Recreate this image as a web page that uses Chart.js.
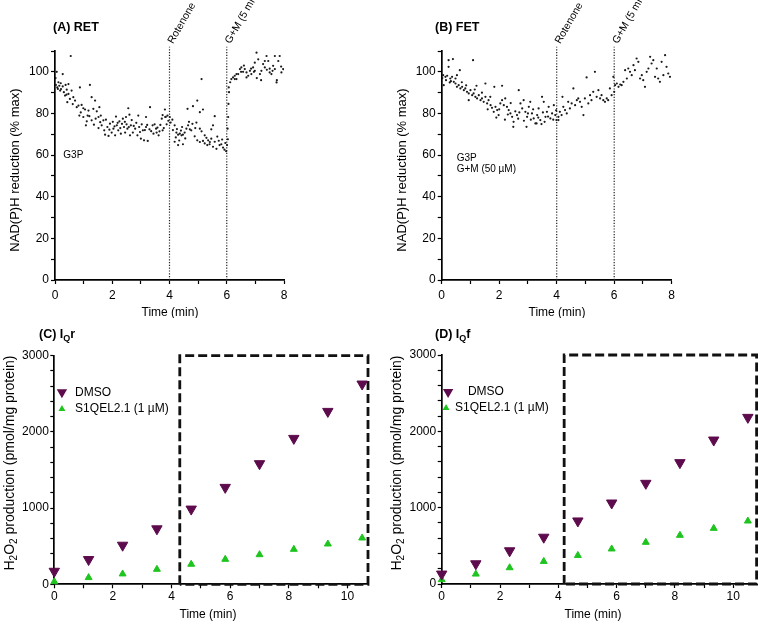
<!DOCTYPE html>
<html>
<head>
<meta charset="utf-8">
<script src="https://cdn.jsdelivr.net/npm/chart.js@4.4.1/dist/chart.umd.min.js"></script>
<style>
  body { margin: 0; background: #fff; }
  #wrap { position: relative; width: 760px; height: 626px; overflow: hidden; }
  canvas { position: absolute; }
</style>
</head>
<body>
<div id="wrap">
  <canvas id="chartA" width="380" height="318" style="left:0;top:0"></canvas>
  <canvas id="chartB" width="380" height="318" style="left:380px;top:0"></canvas>
  <canvas id="chartC" width="380" height="308" style="left:0;top:318px"></canvas>
  <canvas id="chartD" width="380" height="308" style="left:380px;top:318px"></canvas>
</div>
<script>
// ---- data ----
// (A) RET: NAD(P)H reduction (% max) vs time (min)
const retPoints = [
  [0.02,97.0],[0.03,93.7],[0.06,100],[0.08,92.5],[0.10,91.8],[0.12,95.0],[0.15,93.3],[0.18,91.0],[0.20,94.5],[0.21,91.7],
  [0.27,98.9],[0.27,93.0],[0.31,90.2],[0.35,88.6],[0.37,93.7],[0.40,89.0],[0.41,91.4],[0.43,85.4],[0.47,94.1],[0.47,89.4],
  [0.52,87.0],[0.55,107.6],[0.58,91.0],[0.62,84.5],[0.64,87.8],[0.70,86.2],[0.76,83.0],[0.82,83.8],[0.85,79.0],[0.87,92.5],
  [0.90,80.5],[0.93,84.1],[0.99,82.5],[0.99,78.3],[1.05,81.9],[1.08,74.3],[1.11,76.2],[1.14,79.0],[1.17,81.4],[1.20,78.7],
  [1.22,93.7],[1.28,87.8],[1.28,76.7],[1.34,82.2],[1.36,74.6],[1.40,86.2],[1.42,77.5],[1.46,81.0],[1.52,78.3],[1.52,73.0],
  [1.55,83.0],[1.58,75.8],[1.60,79.0],[1.63,74.3],[1.69,76.7],[1.72,71.9],[1.75,69.8],[1.78,77.0],[1.83,73.5],[1.87,69.2],
  [1.90,72.2],[1.92,75.1],[1.98,70.8],[2.02,76.0],[2.04,72.7],[2.08,73.8],[2.10,69.5],[2.13,78.5],[2.16,74.3],[2.19,75.5],
  [2.21,71.9],[2.25,76.2],[2.28,73.0],[2.30,70.3],[2.34,75.0],[2.37,77.5],[2.41,73.5],[2.44,76.0],[2.45,70.8],[2.48,78.3],
  [2.50,74.8],[2.53,72.7],[2.56,82.5],[2.58,73.5],[2.60,79.4],[2.62,69.5],[2.65,74.3],[2.68,76.8],[2.72,70.8],[2.75,74.0],
  [2.80,72.7],[2.84,75.5],[2.88,69.5],[2.91,79.0],[2.94,73.5],[2.97,71.1],[3.00,67.9],[3.03,74.8],[3.07,71.9],[3.11,67.1],
  [3.14,72.0],[3.18,73.5],[3.18,78.3],[3.22,74.5],[3.24,66.8],[3.30,72.4],[3.32,83.0],[3.36,71.5],[3.41,74.3],[3.44,70.3],
  [3.48,74.8],[3.53,72.7],[3.55,70.8],[3.58,73.2],[3.62,69.5],[3.65,71.4],[3.68,74.5],[3.73,77.5],[3.76,71.9],[3.76,79.2],
  [3.80,73.0],[3.84,81.9],[3.85,78.3],[3.87,78.4],[3.90,74.8],[3.93,79.0],[3.96,76.5],
  [4.01,78.3],[4.04,75.6],[4.10,77.0],[4.12,72.0],[4.18,74.3],[4.18,66.4],[4.22,68.5],[4.24,70.8],[4.26,72.5],[4.30,69.8],
  [4.30,64.8],[4.34,67.0],[4.36,70.3],[4.40,71.8],[4.42,69.5],[4.44,73.5],[4.47,69.8],[4.47,65.2],[4.53,70.8],[4.55,68.0],
  [4.59,72.7],[4.63,82.2],[4.65,74.3],[4.68,76.0],[4.71,72.4],[4.76,71.9],[4.80,75.0],[4.82,83.5],[4.88,69.0],[4.90,73.0],
  [4.94,75.6],[4.97,86.2],[4.97,67.1],[5.06,80.6],[5.06,72.7],[5.06,66.3],[5.12,96.5],[5.12,71.4],[5.17,81.9],[5.17,66.8],
  [5.23,69.5],[5.23,65.6],[5.29,68.3],[5.32,64.8],[5.35,67.1],[5.40,65.2],[5.41,66.3],[5.46,67.9],[5.46,72.4],[5.52,74.3],
  [5.52,64.0],[5.58,78.7],[5.58,66.4],[5.64,63.0],[5.67,68.9],[5.72,66.9],[5.75,64.8],[5.81,65.2],[5.84,67.5],[5.87,63.6],
  [5.92,62.6],[5.95,65.8],[5.98,61.9],[6.01,64.8],[6.04,67.6],[6.03,72.7],[6.05,78.3],[6.06,84.6],[6.08,90.2],[6.07,92.5],
  [6.12,95.0],[6.16,96.5],[6.22,97.3],[6.28,98.1],[6.28,96.5],[6.34,96.5],[6.34,98.9],[6.40,98.9],[6.46,101.3],[6.50,100.0],
  [6.51,102.1],[6.57,100.0],[6.60,103.0],[6.63,101.3],[6.69,99.7],[6.69,97.3],[6.75,98.1],[6.81,100.5],[6.85,101.5],[6.86,98.9],
  [6.92,102.1],[6.95,100.0],[6.98,104.4],[6.98,100.5],[7.04,109.2],[7.05,97.0],[7.10,106.0],[7.16,98.9],[7.20,96.0],[7.21,100.5],
  [7.27,103.7],[7.33,102.1],[7.33,105.2],[7.39,107.6],[7.40,101.0],[7.45,105.2],[7.50,99.7],[7.50,101.5],[7.56,98.9],[7.60,100.5],
  [7.62,102.9],[7.68,101.3],[7.68,107.6],[7.74,94.9],[7.75,96.0],[7.80,105.2],[7.85,107.6],[7.90,102.5],[7.91,99.7],[7.97,101.3]
];
// (B) FET
const fetPoints = [
  [0.02,97.0],[0.05,98.4],[0.07,93.6],[0.13,97.6],[0.15,96.0],[0.19,98.1],[0.24,105.6],[0.24,102.4],[0.28,94.9],[0.30,96.8],
  [0.32,95.5],[0.36,97.6],[0.39,106.1],[0.42,95.2],[0.48,96.8],[0.48,94.4],[0.53,98.4],[0.53,92.8],[0.59,93.6],[0.63,100.8],
  [0.65,92.0],[0.70,95.0],[0.71,92.8],[0.77,91.2],[0.82,92.0],[0.85,93.5],[0.88,90.4],[0.94,89.6],[0.94,86.4],[1.00,91.2],
  [1.06,88.8],[1.09,105.6],[1.11,89.6],[1.15,91.5],[1.17,88.0],[1.21,93.3],[1.23,87.2],[1.29,88.8],[1.35,86.4],[1.40,87.2],
  [1.40,90.0],[1.46,85.6],[1.52,94.4],[1.52,88.0],[1.58,84.8],[1.60,82.0],[1.63,86.4],[1.69,88.0],[1.70,84.0],[1.75,82.7],
  [1.81,80.8],[1.83,92.8],[1.87,83.2],[1.90,78.0],[1.93,81.6],[1.98,79.2],[2.00,82.0],[2.04,84.8],[2.10,86.4],[2.10,93.3],
  [2.16,84.0],[2.20,77.0],[2.21,87.2],[2.27,83.2],[2.30,79.5],[2.33,81.6],[2.39,80.0],[2.40,85.0],[2.45,78.4],[2.49,73.6],
  [2.50,76.0],[2.56,81.0],[2.62,79.2],[2.66,77.5],[2.68,91.2],[2.70,80.5],[2.74,84.8],[2.80,82.4],[2.85,86.4],[2.86,76.5],
  [2.91,80.8],[2.95,73.6],[2.97,78.4],[3.00,80.0],[3.03,83.2],[3.08,85.6],[3.10,77.0],[3.14,80.0],[3.18,82.0],[3.20,77.6],
  [3.26,75.2],[3.30,75.2],[3.32,79.2],[3.36,78.0],[3.37,82.4],[3.43,76.8],[3.47,74.9],[3.49,88.0],[3.52,80.5],[3.55,85.6],
  [3.58,76.0],[3.61,78.4],[3.66,80.8],[3.70,78.5],[3.72,83.2],[3.78,77.6],[3.84,80.0],[3.88,77.0],[3.90,84.0],[3.95,79.2],
  [3.98,81.5],
  [3.99,76.8],[4.06,78.4],[4.06,76.8],[4.11,80.8],[4.17,79.2],[4.20,88.0],[4.23,83.2],[4.29,81.6],[4.35,80.0],[4.40,85.6],
  [4.46,82.4],[4.52,84.8],[4.58,92.0],[4.64,84.0],[4.70,86.4],[4.75,87.2],[4.81,85.6],[4.87,83.2],[4.93,79.2],[4.98,87.2],
  [5.04,97.3],[5.10,84.8],[5.16,88.8],[5.21,86.4],[5.27,90.4],[5.33,100],[5.39,88.0],[5.45,91.2],[5.51,87.2],[5.56,88.8],
  [5.62,86.4],[5.68,85.6],[5.74,87.2],[5.79,86.4],[5.85,92.0],[5.91,88.8],[5.97,97.6],[6.00,90.4],[6.03,93.6],[6.09,94.4],
  [6.15,92.8],[6.21,93.9],[6.26,93.6],[6.32,95.2],[6.38,100.8],[6.44,96.8],[6.49,101.6],[6.55,100],[6.61,98.4],[6.67,103.2],
  [6.72,100.8],[6.78,106.4],[6.84,104.8],[6.90,96.8],[6.96,98.4],[7.01,96.0],[7.07,92.8],[7.13,100],[7.19,101.6],[7.25,107.2],
  [7.30,104.0],[7.36,105.6],[7.42,97.6],[7.48,101.6],[7.53,96.8],[7.59,95.2],[7.65,104.8],[7.71,98.4],[7.77,108.0],[7.82,102.4],
  [7.88,99.2],[7.94,97.6]
];
const eventTimes = [4, 6];
const eventLabels = ['Rotenone', 'G+M (5 mM)'];

// (C) IQr and (D) IQf: H2O2 production (pmol/mg protein)
const sampleTimes = [0, 1.17, 2.33, 3.5, 4.67, 5.83, 7, 8.17, 9.33, 10.5];
const iqrDmso  = [171, 325, 513, 728, 987, 1272, 1583, 1915, 2269, 2628];
const iqrS1qel = [35, 88, 136, 197, 263, 328, 389, 459, 529, 608];
const iqfDmso  = [130, 265, 435, 613, 826, 1061, 1319, 1590, 1886, 2183];
const iqfS1qel = [57, 130, 213, 296, 374, 459, 546, 638, 729, 825];
const seriesNames = ['DMSO', 'S1QEL2.1 (1 µM)'];
// dashed window (start, end of the window in min)
const windowC = [4.28, 10.7];
const windowD = [4.2, 10.8];

const FONT = '"Liberation Sans", Arial, Helvetica, sans-serif';
const PURPLE = '#5d0b4c';
const GREEN = '#1fc41f';
Chart.defaults.font.family = FONT;
Chart.defaults.color = '#000';

function richWidth(ctx, segs, size, weight) {
  let w = 0;
  segs.forEach(s => {
    ctx.font = weight + ' ' + (s.sub ? size * 0.72 : size) + 'px ' + FONT;
    w += ctx.measureText(s.t).width;
  });
  return w;
}
function drawRich(ctx, segs, x, y, size, weight) {
  let cx = x;
  segs.forEach(s => {
    ctx.font = weight + ' ' + (s.sub ? size * 0.72 : size) + 'px ' + FONT;
    ctx.fillText(s.t, cx, s.sub ? y + size * 0.32 : y);
    cx += ctx.measureText(s.t).width;
  });
}
function triangle(ctx, x, y, r, down, color) {
  const a0 = down ? Math.PI : 0;
  ctx.beginPath();
  for (let i = 0; i < 3; i++) {
    const a = a0 + i * 2 * Math.PI / 3;
    const px = x + Math.sin(a) * r, py = y - Math.cos(a) * r;
    if (i === 0) ctx.moveTo(px, py); else ctx.lineTo(px, py);
  }
  ctx.closePath();
  ctx.fillStyle = color;
  ctx.fill();
}

const panelText = {
  id: 'panelText',
  afterDraw(chart) {
    const spec = chart.options.plugins.panelText;
    const ctx = chart.ctx, xs = chart.scales.x, ys = chart.scales.y;
    ctx.save();
    ctx.fillStyle = '#000';
    ctx.textBaseline = 'middle';
    ctx.textAlign = 'left';
    // panel title
    drawRich(ctx, spec.title, spec.titlePos[0], spec.titlePos[1], 12.5, 'bold');
    // x title
    ctx.font = '12px ' + FONT;
    ctx.textAlign = 'center';
    ctx.fillText('Time (min)', spec.xTitlePos[0], spec.xTitlePos[1]);
    // y title
    const w = richWidth(ctx, spec.yTitle, spec.yTitleSize, 'normal');
    ctx.save();
    ctx.translate(spec.yTitlePos[0], spec.yTitlePos[1]);
    ctx.rotate(-Math.PI / 2);
    ctx.textAlign = 'left';
    drawRich(ctx, spec.yTitle, -w / 2, 0, spec.yTitleSize, 'normal');
    ctx.restore();
    // notes
    ctx.textAlign = 'left';
    ctx.font = '10px ' + FONT;
    (spec.notes || []).forEach(n => {
      ctx.fillText(n.text, xs.getPixelForValue(n.x), ys.getPixelForValue(n.y));
    });
    // event labels
    if (spec.events) {
      ctx.font = '10.5px ' + FONT;
      eventTimes.forEach((t, i) => {
        ctx.save();
        ctx.translate(xs.getPixelForValue(t) + 1, ys.getPixelForValue(112) - 4);
        ctx.rotate(-60 * Math.PI / 180);
        ctx.fillText(eventLabels[i], 0, 0);
        ctx.restore();
      });
    }
    // legend
    (spec.legend || []).forEach((l, i) => {
      const my = ys.getPixelForValue(l.y);
      triangle(ctx, xs.getPixelForValue(l.mx), my, i === 0 ? 6 : 4, i === 0, i === 0 ? PURPLE : GREEN);
      ctx.fillStyle = '#000';
      ctx.font = '12px ' + FONT;
      ctx.fillText(seriesNames[i], xs.getPixelForValue(l.tx), my);
    });
    ctx.restore();
  }
};

function axis(o, horizontal) {
  return {
    type: 'linear',
    min: 0,
    max: o.max,
    ticks: {
      stepSize: o.step,
      includeBounds: false,
      autoSkip: false,
      maxRotation: 0,
      padding: o.pad,
      color: '#000',
      font: { size: o.font },
      callback: v => (Math.abs(v % o.every) < 1e-6 ? String(v) : '')
    },
    grid: { drawOnChartArea: false, tickLength: 4, tickColor: '#000', tickWidth: 1.2 },
    border: { color: '#000', width: 1.7 },
    afterFit: s => { if (horizontal) s.height = o.size; else s.width = o.size; }
  };
}

function makeChart(id, spec) {
  new Chart(document.getElementById(id), {
    type: 'scatter',
    data: { datasets: spec.datasets },
    options: {
      responsive: false,
      animation: false,
      events: [],
      layout: { padding: spec.padding, autoPadding: false },
      plugins: { legend: { display: false }, tooltip: { enabled: false }, panelText: spec.text },
      scales: { x: axis(spec.x, true), y: axis(spec.y, false) }
    },
    plugins: [panelText]
  });
}

function traceDatasets(points) {
  const sets = [{
    data: points.map(p => ({ x: p[0], y: p[1] })),
    pointRadius: 1.1,
    pointBackgroundColor: '#1a1a1a',
    pointBorderWidth: 0
  }];
  eventTimes.forEach(t => sets.push({
    data: [{ x: t, y: 0 }, { x: t, y: 112 }],
    showLine: true,
    borderColor: '#222',
    borderWidth: 1.2,
    borderDash: [1.2, 1.6],
    pointRadius: 0,
    clip: false
  }));
  return sets;
}

function rateDatasets(dmso, s1qel, win) {
  return [
    {
      data: sampleTimes.map((t, i) => ({ x: t, y: dmso[i] })),
      pointStyle: 'triangle', rotation: 180, pointRadius: 6,
      backgroundColor: PURPLE, borderColor: PURPLE, borderWidth: 1,
      clip: false
    },
    {
      data: sampleTimes.map((t, i) => ({ x: t, y: s1qel[i] })),
      pointStyle: 'triangle', pointRadius: 4,
      backgroundColor: GREEN, borderColor: GREEN, borderWidth: 1,
      clip: false
    },
    {
      data: [{ x: win[0], y: 0 }, { x: win[0], y: 3000 }, { x: win[1], y: 3000 }, { x: win[1], y: 0 }, { x: win[0], y: 0 }],
      showLine: true,
      borderColor: '#111',
      borderWidth: 2.8,
      borderDash: [9, 4],
      pointRadius: 0,
      clip: false
    }
  ];
}

const nadTitle = [{ t: 'NAD(P)H reduction (% max)' }];
const h2o2Title = [{ t: 'H' }, { t: '2', sub: true }, { t: 'O' }, { t: '2', sub: true }, { t: ' production (pmol/mg protein)' }];

makeChart('chartA', {
  padding: { left: 10, right: 96, top: 51, bottom: 0 },
  x: { max: 8, step: 1, every: 2, pad: 4, font: 12, size: 38 },
  y: { max: 110, step: 10, every: 20, pad: 2, font: 12, size: 45 },
  datasets: traceDatasets(retPoints),
  text: {
    title: [{ t: '(A) RET' }], titlePos: [53, 28],
    xTitlePos: [170, 313], yTitle: nadTitle, yTitleSize: 13, yTitlePos: [15, 170],
    notes: [{ x: 0.29, y: 60, text: 'G3P' }],
    events: true
  }
});

makeChart('chartB', {
  padding: { left: 16.7, right: 88.3, top: 51, bottom: 0 },
  x: { max: 8, step: 1, every: 2, pad: 4, font: 12, size: 38 },
  y: { max: 110, step: 10, every: 20, pad: 2, font: 12, size: 45 },
  datasets: traceDatasets(fetPoints),
  text: {
    title: [{ t: '(B) FET' }], titlePos: [55, 28],
    xTitlePos: [177, 313], yTitle: nadTitle, yTitleSize: 13, yTitlePos: [22, 170],
    notes: [{ x: 0.52, y: 58.5, text: 'G3P' }, { x: 0.52, y: 53, text: 'G+M (50 µM)' }],
    events: true
  }
});

makeChart('chartC', {
  padding: { left: 9.3, right: 12, top: 37.7, bottom: 0 },
  x: { max: 10.7, step: 1, every: 2, pad: 1.5, font: 12, size: 41.7 },
  y: { max: 3000, step: 200, every: 1000, pad: 1.5, font: 12, size: 45 },
  datasets: rateDatasets(iqrDmso, iqrS1qel, windowC),
  text: {
    title: [{ t: '(C) I' }, { t: 'Q', sub: true }, { t: 'r' }], titlePos: [39, 17],
    xTitlePos: [208, 297], yTitle: h2o2Title, yTitleSize: 14, yTitlePos: [10, 145],
    legend: [{ mx: 0.26, tx: 0.71, y: 2520 }, { mx: 0.26, tx: 0.71, y: 2300 }]
  }
});

makeChart('chartD', {
  padding: { left: 16.7, right: 3.4, top: 37, bottom: 0 },
  x: { max: 10.8, step: 1, every: 2, pad: 1.5, font: 12, size: 42 },
  y: { max: 3000, step: 200, every: 1000, pad: 1.5, font: 12, size: 45 },
  datasets: rateDatasets(iqfDmso, iqfS1qel, windowD),
  text: {
    title: [{ t: '(D) I' }, { t: 'Q', sub: true }, { t: 'f' }], titlePos: [55, 17],
    xTitlePos: [213, 297], yTitle: h2o2Title, yTitleSize: 14, yTitlePos: [17, 145],
    legend: [{ mx: 0.22, tx: 0.9, y: 2516 }, { mx: 0.15, tx: 0.46, y: 2306 }]
  }
});
</script>
</body>
</html>
